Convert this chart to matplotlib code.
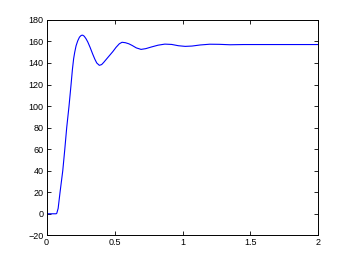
import matplotlib
matplotlib.use("Agg")
import matplotlib.pyplot as plt

plt.rcParams.update({
    "font.family": ["Liberation Sans", "DejaVu Sans"],
    "font.size": 6.5,
})

# step response
t = [0, 0.07, 0.075, 0.085, 0.099, 0.119, 0.134, 0.148, 0.165, 0.180,
     0.190, 0.199, 0.207, 0.217, 0.229, 0.242, 0.255, 0.266, 0.277, 0.29,
     0.303, 0.32, 0.34, 0.355, 0.369, 0.388, 0.405, 0.42, 0.45, 0.487,
     0.511, 0.535, 0.555, 0.58, 0.605, 0.629, 0.66, 0.695, 0.73, 0.77,
     0.82, 0.87, 0.92, 0.97, 1.02, 1.07, 1.13, 1.2, 1.27, 1.35,
     1.45, 2.0]
y = [0, 0, 0.5, 5, 20, 40, 60, 80, 100, 120,
     134, 144, 150, 156, 160.5, 164, 165.6, 165.8, 164.8, 162.5,
     159.5, 154.5, 148, 143.5, 140, 137.8, 138.5, 140.5, 145, 150.5,
     154.5, 157.8, 159.2, 158.8, 157.8, 156.3, 154, 152.6, 153.3, 154.8,
     156.5, 157.5, 157.2, 156, 155.4, 155.7, 156.7, 157.4, 157.3, 156.9,
     157.1, 157.1]

xticks = [0, 0.5, 1, 1.5, 2]
xticklabels = ["0", "0.5", "1", "1.5", "2"]
yticks = list(range(-20, 181, 20))

fig = plt.figure(figsize=(3.53, 2.65), dpi=100)
ax = fig.add_axes([0.132, 0.112, 0.770, 0.813])
ax.plot(t, y, color="#0000ff", linewidth=0.8)

ax.set_xlim(0, 2)
ax.set_ylim(-20, 180)
ax.set_xticks(xticks)
ax.set_xticklabels(xticklabels)
ax.set_yticks(yticks)
ax.tick_params(direction="in", top=True, right=True, length=3, width=0.6, pad=2)
for s in ax.spines.values():
    s.set_linewidth(0.7)

fig.savefig("out.png", dpi=100)
